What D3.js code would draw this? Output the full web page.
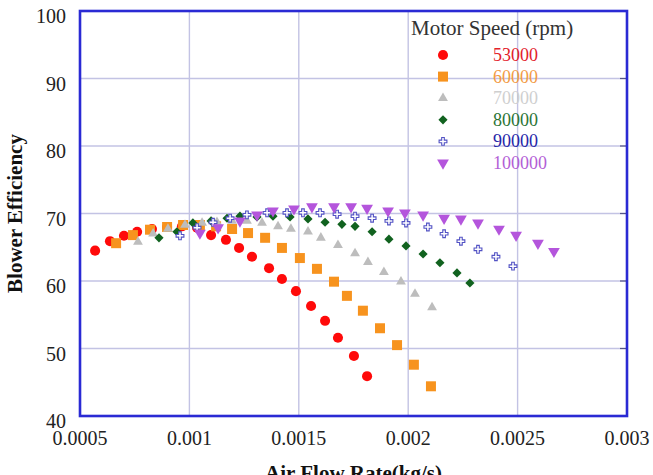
<!DOCTYPE html>
<html>
<head>
<meta charset="utf-8">
<script src="https://cdn.jsdelivr.net/npm/d3@7"></script>
<style>
  body { margin: 0; background: #fff; }
</style>
</head>
<body>
<div id="chart"></div>
<script>
// Motor speeds (rpm) and blower efficiency vs air flow rate (kg/s)
const speeds = ["53000", "60000", "70000", "80000", "90000", "100000"];

const flow53k = [0.000569, 0.000637, 0.000701, 0.000761, 0.000829, 0.000898, 0.000966, 0.001035, 0.001099, 0.001167,
                 0.001227, 0.001286, 0.001364, 0.001423, 0.001487, 0.001556, 0.001620, 0.001679, 0.001752, 0.001812];
const eff53k  = [64.5, 65.9, 66.7, 67.3, 67.7, 68.0, 68.1, 67.9, 66.8, 66.1,
                 64.9, 63.6, 61.9, 60.3, 58.5, 56.3, 54.1, 51.6, 48.9, 45.9];

const flow60k = [0.000665, 0.000742, 0.000820, 0.000898, 0.000971, 0.001048, 0.001122, 0.001195, 0.001268, 0.001346,
                 0.001423, 0.001505, 0.001583, 0.001661, 0.001720, 0.001793, 0.001871, 0.001949, 0.002026, 0.002104];
const eff60k  = [65.6, 66.8, 67.6, 68.0, 68.3, 68.3, 68.1, 67.7, 67.1, 66.4,
                 64.9, 63.4, 61.8, 59.9, 57.8, 55.6, 53.0, 50.5, 47.6, 44.4];

const flow70k = [0.000765, 0.000834, 0.000902, 0.000980, 0.001058, 0.001126, 0.001195, 0.001263, 0.001332, 0.001405,
                 0.001464, 0.001542, 0.001601, 0.001679, 0.001757, 0.001816, 0.001889, 0.001967, 0.002031, 0.002109];
const eff70k  = [65.8, 67.0, 67.7, 68.3, 68.6, 68.7, 68.9, 68.9, 68.6, 68.1,
                 67.7, 67.3, 66.4, 65.3, 64.1, 62.8, 61.3, 59.9, 58.1, 56.1];

const flow80k = [0.000861, 0.000943, 0.001016, 0.001099, 0.001172, 0.001231, 0.001309, 0.001382, 0.001460, 0.001542,
                 0.001620, 0.001697, 0.001757, 0.001835, 0.001912, 0.001990, 0.002068, 0.002145, 0.002223, 0.002282];
const eff80k  = [66.4, 67.3, 68.6, 68.9, 69.3, 69.6, 69.5, 69.6, 69.5, 69.2,
                 68.7, 68.4, 68.1, 67.3, 66.2, 65.2, 64.0, 62.7, 61.2, 59.7];

const flow90k = [0.000957, 0.001035, 0.001108, 0.001186, 0.001263, 0.001355, 0.001446, 0.001519, 0.001597, 0.001675,
                 0.001757, 0.001835, 0.001912, 0.001990, 0.002090, 0.002164, 0.002241, 0.002319, 0.002401, 0.002479];
const eff90k  = [66.7, 67.9, 68.7, 69.3, 69.8, 70.1, 70.1, 70.1, 70.1, 69.9,
                 69.6, 69.3, 68.9, 68.6, 68.0, 67.0, 65.9, 64.7, 63.6, 62.2];

const flow100k = [0.001048, 0.001131, 0.001231, 0.001309, 0.001382, 0.001478, 0.001560, 0.001661, 0.001739, 0.001812,
                  0.001908, 0.001985, 0.002068, 0.002164, 0.002241, 0.002319, 0.002415, 0.002493, 0.002593, 0.002666];
const eff100k  = [67.1, 67.9, 68.9, 69.8, 70.4, 70.7, 71.0, 71.0, 71.0, 70.8,
                  70.4, 70.1, 69.8, 69.3, 69.2, 68.6, 67.7, 66.8, 65.6, 64.4];

const xTicks = [0.0005, 0.001, 0.0015, 0.002, 0.0025, 0.003];
const xTickLabels = ["0.0005", "0.001", "0.0015", "0.002", "0.0025", "0.003"];
const yTicks = [40, 50, 60, 70, 80, 90, 100];

const flows = [flow53k, flow60k, flow70k, flow80k, flow90k, flow100k];
const effs = [eff53k, eff60k, eff70k, eff80k, eff90k, eff100k];

const markerColors = ["#ff0a0a", "#f7931e", "#bdbdbd", "#11621f", "#5252c4", "#b455dc"];
const labelColors = ["#e3212b", "#f29b45", "#cfcfcf", "#2c7436", "#2626a8", "#b35ed6"];

const serif = "'Liberation Serif'";

const width = 653, height = 475;
const margin = { top: 11, right: 26, bottom: 59, left: 80 };
const innerW = width - margin.left - margin.right;
const innerH = height - margin.top - margin.bottom;

const svg = d3.select("#chart").append("svg")
  .attr("width", width)
  .attr("height", height);

const x = d3.scaleLinear().domain([0.0005, 0.003]).range([margin.left, margin.left + innerW]);
const y = d3.scaleLinear().domain([40, 100]).range([margin.top + innerH, margin.top]);

// grid
const grid = svg.append("g");
grid.selectAll("line.vg")
  .data(xTicks.slice(1, -1))
  .enter().append("line")
  .attr("x1", d => x(d)).attr("x2", d => x(d))
  .attr("y1", y(100)).attr("y2", y(40))
  .attr("stroke", "#c3c3e4").attr("stroke-width", 1.4);
grid.selectAll("line.hg")
  .data(yTicks.slice(1, -1))
  .enter().append("line")
  .attr("x1", x(0.0005)).attr("x2", x(0.003))
  .attr("y1", d => y(d)).attr("y2", d => y(d))
  .attr("stroke", "#c3c3e4").attr("stroke-width", 1.4);
// small inward ticks on right edge
grid.selectAll("line.rt")
  .data(yTicks.slice(1, -1))
  .enter().append("line")
  .attr("x1", x(0.003) - 7).attr("x2", x(0.003))
  .attr("y1", d => y(d)).attr("y2", d => y(d))
  .attr("stroke", "#555588").attr("stroke-width", 1.2);

// axes labels
svg.append("g").selectAll("text")
  .data(yTicks)
  .enter().append("text")
  .attr("x", margin.left - 14)
  .attr("y", d => y(d) + 12)
  .attr("text-anchor", "end")
  .style("font-family", serif)
  .attr("font-size", 20)
  .attr("fill", "#222")
  .text(d => d);

svg.append("g").selectAll("text")
  .data(xTicks)
  .enter().append("text")
  .attr("x", d => x(d))
  .attr("y", y(40) + 29)
  .attr("text-anchor", "middle")
  .style("font-family", serif)
  .attr("font-size", 20)
  .attr("fill", "#222")
  .text((d, i) => xTickLabels[i]);

svg.append("text")
  .attr("transform", `translate(22, ${(y(40) + y(100)) / 2}) rotate(-90)`)
  .attr("text-anchor", "middle")
  .style("font-family", serif)
  .attr("font-size", 21)
  .attr("font-weight", "bold")
  .attr("fill", "#111")
  .text("Blower Efficiency");

svg.append("text")
  .attr("x", (x(0.0005) + x(0.003)) / 2)
  .attr("y", 480)
  .attr("text-anchor", "middle")
  .style("font-family", serif)
  .attr("font-size", 21)
  .attr("font-weight", "bold")
  .attr("fill", "#111")
  .text("Air Flow Rate(kg/s)");

// marker shapes
const shapes = [
  d3.symbol().type(d3.symbolCircle).size(80),
  d3.symbol().type(d3.symbolSquare).size(100),
  d3.symbol().type(d3.symbolTriangle).size(42),
  d3.symbol().type(d3.symbolSquare).size(42),
  d3.symbol().type(d3.symbolCross).size(34),
  d3.symbol().type(d3.symbolTriangle).size(60)
];
const rotations = [0, 0, 0, 45, 0, 180];

function drawMarker(g, i, px, py) {
  const p = g.append("path")
    .attr("d", shapes[i]())
    .attr("transform", `translate(${px},${py}) rotate(${rotations[i]})`);
  if (i === 4) {
    p.attr("fill", "#fff").attr("stroke", markerColors[i]).attr("stroke-width", 1.1);
  } else {
    p.attr("fill", markerColors[i]);
  }
}

const points = svg.append("g");
speeds.forEach((s, i) => {
  const g = points.append("g").attr("class", "series-" + s);
  flows[i].forEach((f, j) => {
    drawMarker(g, i, x(f), y(effs[i][j]));
  });
});

// plot border
svg.append("rect")
  .attr("x", x(0.0005)).attr("y", y(100))
  .attr("width", x(0.003) - x(0.0005))
  .attr("height", y(40) - y(100))
  .attr("fill", "none")
  .attr("stroke", "#2a2ad4")
  .attr("stroke-width", 2.6);

// legend
const legend = svg.append("g");
legend.append("text")
  .attr("x", 411).attr("y", 35)
  .style("font-family", serif)
  .attr("font-size", 21)
  .attr("fill", "#333")
  .text("Motor Speed (rpm)");

speeds.forEach((s, i) => {
  const ry = 55 + i * 21.6;
  drawMarker(legend, i, 443, ry);
  legend.append("text")
    .attr("x", 493).attr("y", ry + 6)
    .style("font-family", serif)
    .attr("font-size", 18)
    .attr("fill", labelColors[i])
    .text(s);
});
</script>
</body>
</html>
